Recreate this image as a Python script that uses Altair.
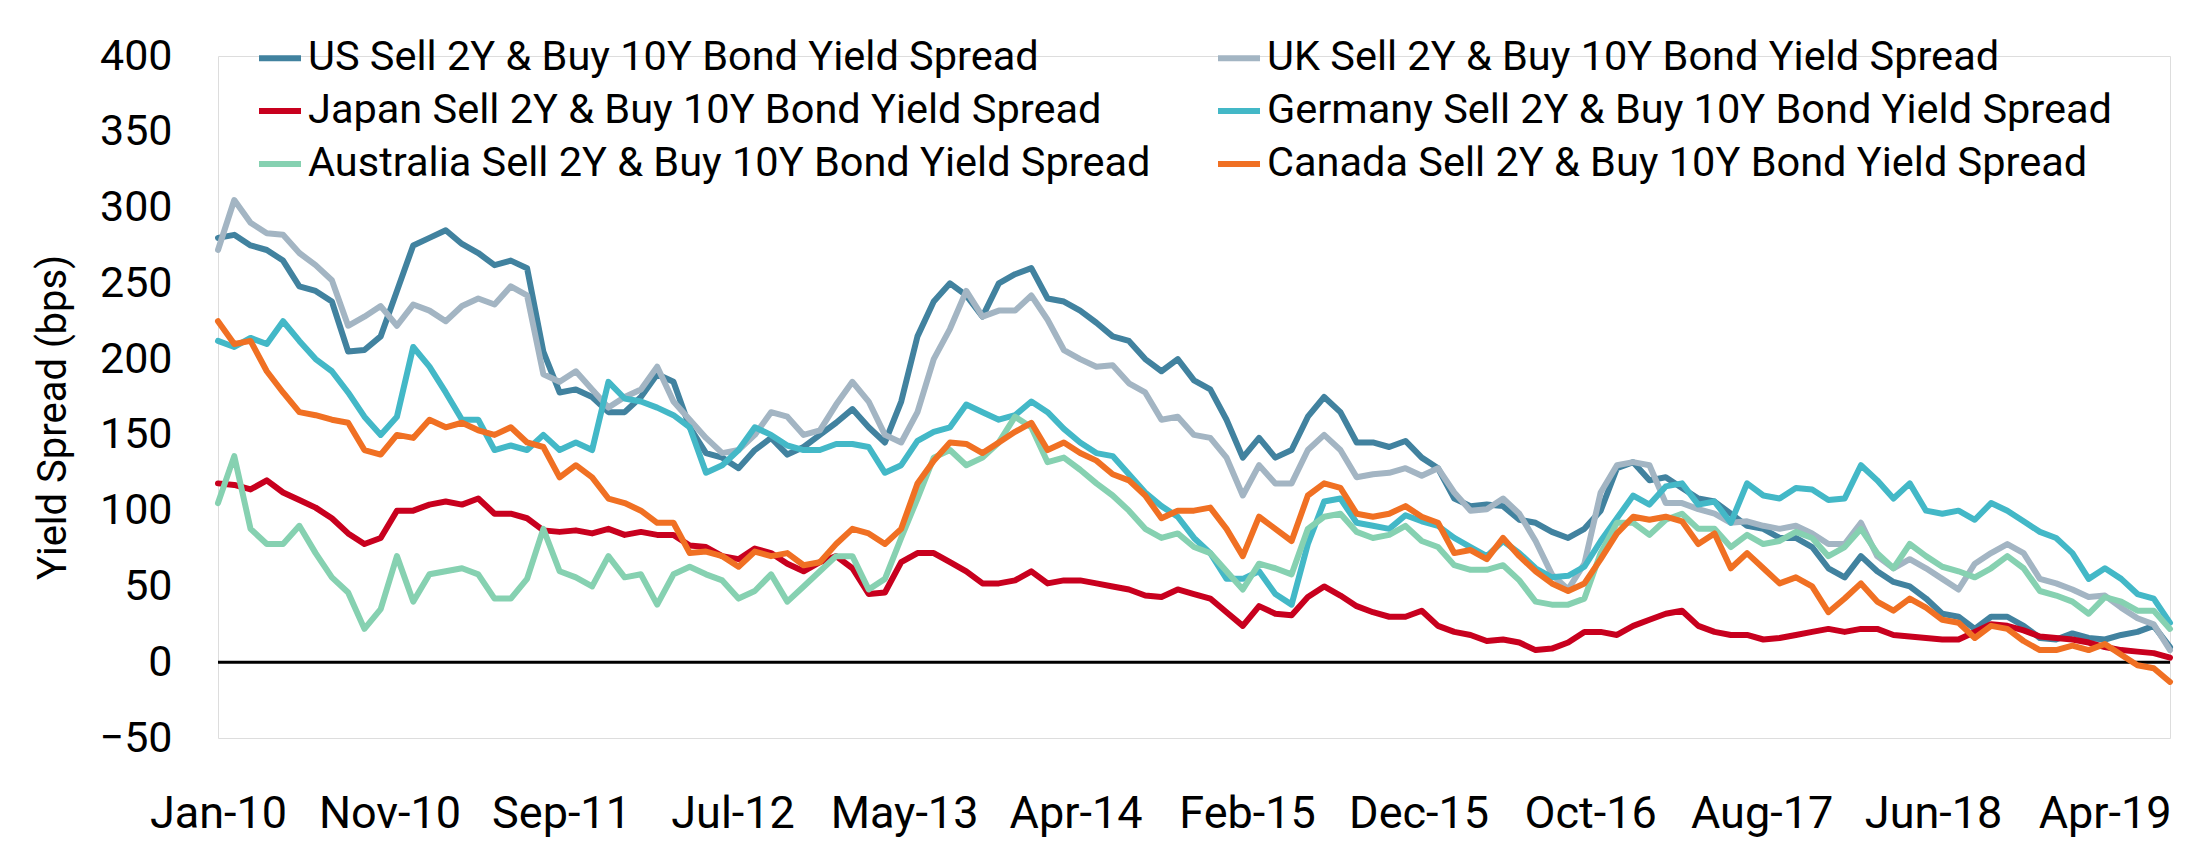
import altair as alt
import pandas as pd

SERIES = [
    "US Sell 2Y & Buy 10Y Bond Yield Spread",
    "UK Sell 2Y & Buy 10Y Bond Yield Spread",
    "Japan Sell 2Y & Buy 10Y Bond Yield Spread",
    "Germany Sell 2Y & Buy 10Y Bond Yield Spread",
    "Australia Sell 2Y & Buy 10Y Bond Yield Spread",
    "Canada Sell 2Y & Buy 10Y Bond Yield Spread",
]
COLORS = ["#41829F", "#A3B5C3", "#C8001E", "#43B8C7", "#86D1B1", "#F07023"]

START_DATE = "2010-01-18"
END_DATE = "2019-08-13"
TICK_DATES = [
    "2010-01-18", "2010-11-21", "2011-09-24", "2012-07-27", "2013-05-30", "2014-04-02",
    "2015-02-03", "2015-12-07", "2016-10-09", "2017-08-12", "2018-06-15", "2019-04-18",
]
Y_TICKS = [-50, 0, 50, 100, 150, 200, 250, 300, 350, 400]

us = [280, 282, 275, 272, 265, 248, 245, 238, 205, 206, 215, 245, 275, 280, 285, 276, 270, 262, 265, 260, 205, 178, 180, 175, 165,
      165, 175, 190, 185, 155, 138, 135, 128, 140, 148, 137, 142, 150, 158, 167, 155, 145, 172, 215, 238, 250, 242, 228, 250,
      256, 260, 240, 238, 232, 224, 215, 212, 200, 192, 200, 186, 180, 160, 135, 148, 135, 140, 162, 175, 165, 145, 145, 142,
      146, 135, 128, 108, 103, 104, 103, 94, 92, 86, 82, 88, 100, 128, 132, 120, 122, 115, 108, 106, 98, 90, 88, 82,
      82, 76, 62, 56, 70, 60, 53, 50, 42, 32, 30, 22, 30, 30, 24, 16, 15, 19, 16, 15, 18, 20, 24, 10]
uk = [272, 305, 290, 283, 282, 270, 262, 252, 222, 228, 235, 222, 236, 232, 225, 235, 240, 236, 248, 242, 190, 185, 192, 180, 168,
      175, 180, 195, 172, 160, 148, 138, 140, 150, 165, 162, 150, 153, 170, 185, 172, 150, 145, 165, 200, 220, 245, 228, 232,
      232, 242, 226, 206, 200, 195, 196, 184, 178, 160, 162, 150, 148, 135, 110, 130, 118, 118, 140, 150, 140, 122, 124, 125,
      128, 123, 128, 112, 100, 101, 108, 98, 80, 58, 48, 65, 112, 130, 132, 130, 105, 105, 101, 98, 92, 93, 90, 88,
      90, 85, 78, 78, 92, 70, 62, 68, 62, 55, 48, 65, 72, 78, 72, 55, 52, 48, 43, 44, 36, 29, 25, 8]
japan = [118, 117, 114, 120, 112, 107, 102, 95, 85, 78, 82, 100, 100, 104, 106, 104, 108, 98, 98, 95, 87, 86, 87, 85, 88,
         84, 86, 84, 84, 77, 76, 70, 68, 75, 72, 65, 60, 66, 70, 62, 45, 46, 66, 72, 72, 66, 60, 52, 52,
         54, 60, 52, 54, 54, 52, 50, 48, 44, 43, 48, 45, 42, 33, 24, 37, 32, 31, 43, 50, 44, 37, 33, 30,
         30, 34, 24, 20, 18, 14, 15, 13, 8, 9, 13, 20, 20, 18, 24, 28, 32, 34, 24, 20, 18, 18, 15, 16,
         18, 20, 22, 20, 22, 22, 18, 17, 16, 15, 15, 20, 25, 24, 21, 17, 16, 15, 13, 10, 8, 7, 6, 3]
germany = [212, 208, 214, 210, 225, 212, 200, 192, 178, 162, 150, 162, 208, 195, 178, 160, 160, 140, 143, 140, 150, 140, 145, 140, 185,
           174, 172, 168, 163, 155, 125, 130, 140, 155, 150, 143, 140, 140, 144, 144, 142, 125, 130, 146, 152, 155, 170, 165, 160,
           163, 172, 165, 154, 145, 138, 136, 124, 112, 103, 96, 82, 72, 55, 55, 60, 45, 38, 78, 106, 108, 92, 90, 88,
           97, 93, 90, 82, 76, 70, 80, 72, 62, 56, 57, 63, 80, 95, 110, 104, 116, 118, 104, 106, 92, 118, 110, 108,
           115, 114, 107, 108, 130, 120, 108, 118, 100, 98, 100, 94, 105, 100, 93, 86, 82, 72, 55, 62, 55, 45, 42, 26]
australia = [105, 136, 88, 78, 78, 90, 72, 56, 46, 22, 35, 70, 40, 58, 60, 62, 58, 42, 42, 55, 88, 60, 56, 50, 70,
             56, 58, 38, 58, 63, 58, 54, 42, 47, 58, 40, 50, 60, 70, 70, 48, 55, 82, 108, 135, 140, 130, 135, 145,
             162, 155, 132, 135, 127, 118, 110, 100, 88, 82, 85, 76, 72, 60, 48, 65, 62, 58, 88, 96, 98, 86, 82, 84,
             90, 80, 76, 64, 61, 61, 64, 54, 40, 38, 38, 42, 72, 92, 92, 84, 94, 98, 88, 88, 76, 84, 78, 80,
             86, 82, 70, 76, 88, 72, 62, 78, 70, 63, 60, 56, 62, 70, 62, 47, 44, 40, 32, 43, 40, 34, 34, 22]
canada = [225, 210, 212, 192, 178, 165, 163, 160, 158, 140, 137, 150, 148, 160, 155, 158, 153, 150, 155, 145, 142, 122, 130, 122, 108,
          105, 100, 92, 92, 72, 73, 70, 63, 73, 70, 72, 64, 66, 78, 88, 85, 78, 88, 118, 133, 145, 144, 138, 145,
          152, 158, 140, 145, 138, 133, 124, 120, 110, 95, 100, 100, 102, 88, 70, 96, 88, 80, 110, 118, 115, 98, 96, 98,
          103, 96, 92, 72, 74, 68, 82, 70, 60, 52, 47, 52, 68, 85, 96, 94, 96, 93, 78, 85, 62, 72, 62, 52,
          56, 50, 33, 42, 52, 40, 34, 42, 36, 28, 26, 16, 24, 22, 14, 8, 8, 11, 8, 12, 5, -2, -4, -13]

VALUES = [us, uk, japan, germany, australia, canada]

dates = pd.date_range(START_DATE, END_DATE, periods=len(us)).strftime("%Y-%m-%dT%H:%M:%S")
frames = [pd.DataFrame({"date": dates, "series": name, "value": vals}) for name, vals in zip(SERIES, VALUES)]
df = pd.concat(frames, ignore_index=True)


def dt(s):
    y, m, d = map(int, s.split("-"))
    return alt.DateTime(year=y, month=m, date=d)


FONT = "Roboto"
X_FS = 45
Y_FS = 43
LEGEND_FS = 41.5

x_scale = alt.Scale(domain=[dt(START_DATE), dt(END_DATE)], nice=False)
y_scale = alt.Scale(domain=[-50, 400], nice=False, zero=False)
color_scale = alt.Scale(domain=SERIES, range=COLORS)

x_axis = alt.Axis(values=[dt(s) for s in TICK_DATES], format="%b-%y", title=None,
                  domain=False, domainOpacity=0, ticks=False, tickOpacity=0, grid=False, gridOpacity=0,
                  labelFont=FONT, labelFontSize=X_FS, labelColor="black", labelPadding=53,
                  labelAngle=0, labelOverlap=False, labelFlush=False)
y_axis = alt.Axis(values=Y_TICKS, title="Yield Spread (bps)",
                  domain=False, domainOpacity=0, ticks=False, tickOpacity=0, grid=False, gridOpacity=0,
                  labelFont=FONT, labelFontSize=Y_FS, labelColor="black", labelPadding=46,
                  titleFont=FONT, titleFontSize=40, titleFontWeight="normal", titleColor="black",
                  titleX=-165, titleY=361, titleAngle=270, titleAlign="center", titleBaseline="middle")
legend = alt.Legend(orient="none", legendX=38, legendY=-22, columns=2, direction="horizontal", title=None,
                    symbolType="stroke", symbolSize=1764, symbolStrokeWidth=6, symbolOpacity=1,
                    labelFont=FONT, labelFontSize=LEGEND_FS, labelColor="black", labelLimit=0, labelOffset=4,
                    columnPadding=55, rowPadding=8, padding=0)

zero = alt.Chart(pd.DataFrame({"value": [0]})).mark_rule(color="black", strokeWidth=3).encode(
    y=alt.Y("value:Q", scale=y_scale, axis=y_axis)
)

layers = [zero]
for name in SERIES:
    layers.append(
        alt.Chart(df).transform_filter(alt.datum.series == name).mark_line(
            strokeWidth=6, strokeJoin="round", strokeCap="round"
        ).encode(
            x=alt.X("date:T", scale=x_scale, axis=x_axis),
            y=alt.Y("value:Q", scale=y_scale, axis=y_axis),
            color=alt.Color("series:N", scale=color_scale, legend=legend),
        )
    )

chart = alt.layer(*layers).properties(
    width=1952, height=682,
    autosize=alt.AutoSizeParams(type="none"),
    padding={"left": 210, "top": 48, "right": 20, "bottom": 100},
).configure_view(
    strokeWidth=0, strokeOpacity=0
).configure_axis(
    domain=False, domainOpacity=0, ticks=False, grid=False
).configure(background="white")

chart.save("out.html", embed_options={"renderer": "svg", "actions": False})
